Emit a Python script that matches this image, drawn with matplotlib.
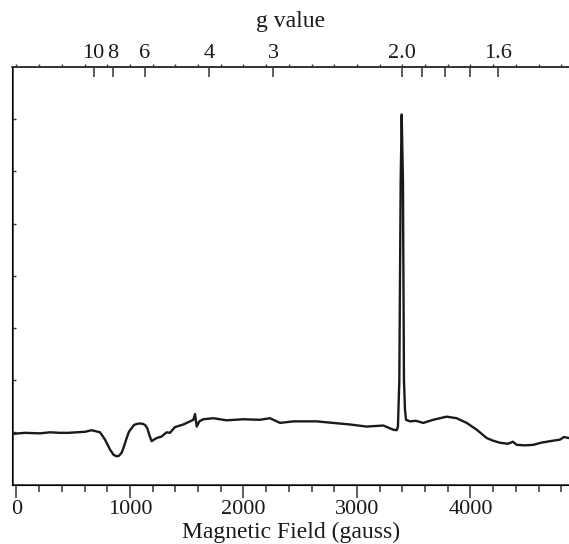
import matplotlib
matplotlib.use("Agg")
import matplotlib.pyplot as plt
from matplotlib.ticker import FixedLocator, NullFormatter

# ---- data ----
field_gauss = [-35, 75, 207, 295, 383, 454, 530, 604, 663, 736, 780, 824, 855, 883,
               903, 927, 947, 971, 991, 1015, 1035, 1059, 1088, 1117, 1137, 1152,
               1172, 1191, 1211, 1235, 1279, 1323, 1352, 1396, 1470, 1529, 1558,
               1573, 1588, 1611, 1646, 1734, 1852, 1998, 2145, 2233, 2322, 2439,
               2498, 2645, 2791, 2938, 3085, 3232, 3320, 3350, 3361, 3373, 3385,
               3394, 3405, 3414, 3423, 3432, 3467, 3520, 3584, 3672, 3790, 3878,
               3967, 4055, 4143, 4198, 4260, 4330, 4374, 4407, 4480, 4553, 4621,
               4700, 4789, 4824, 4868]
intensity = [0.97, 0.99, 0.98, 1.00, 0.99, 0.99, 1.00, 1.01, 1.04, 1.00, 0.86, 0.67,
             0.57, 0.54, 0.55, 0.61, 0.73, 0.89, 1.01, 1.08, 1.14, 1.16, 1.17, 1.16,
             1.13, 1.08, 0.94, 0.83, 0.86, 0.89, 0.92, 1.00, 0.99, 1.10, 1.15, 1.21,
             1.24, 1.35, 1.11, 1.21, 1.25, 1.27, 1.23, 1.25, 1.24, 1.27, 1.18, 1.21,
             1.21, 1.21, 1.18, 1.15, 1.11, 1.13, 1.05, 1.04, 1.11, 2.00, 5.82, 7.09,
             5.82, 2.00, 1.43, 1.24, 1.21, 1.22, 1.18, 1.24, 1.30, 1.27, 1.18, 1.05,
             0.89, 0.84, 0.80, 0.78, 0.82, 0.76, 0.75, 0.76, 0.80, 0.83, 0.86, 0.91,
             0.89]

x_major_ticks = [0, 1000, 2000, 3000, 4000]
g_major_values = [10, 8, 6, 4, 3, 2.0, 1.6]
g_major_labels = ["10", "8", "6", "4", "3", "2.0", "1.6"]
g_minor_values = [1.9, 1.8, 1.7]
g_constant = 6790  # gauss: field = g_constant / g

plt.rcParams['font.family'] = ['Liberation Serif', 'DejaVu Serif']

fig = plt.figure(figsize=(5.69, 5.44), dpi=100)
ax = fig.add_axes([12.5 / 569, 1 - 484.5 / 544, 1 - 12.5 / 569, (484.5 - 67) / 544])

ax.plot(field_gauss, intensity, color='#1a1a1a', lw=1.7)
ax.set_xlim(-35, 4868)
ax.set_ylim(0, 8)

for s in ['left', 'top', 'bottom']:
    ax.spines[s].set_linewidth(1.2)
    ax.spines[s].set_color('#333333')
ax.spines['right'].set_visible(False)

ax.xaxis.set_major_locator(FixedLocator(x_major_ticks))
ax.xaxis.set_minor_locator(FixedLocator(list(range(-200, 5000, 200))))
ax.tick_params(axis='x', which='major', direction='out', length=9, width=1.1,
               labelsize=16, pad=2, colors='#333333', labelcolor='#1a1a1a')
ax.tick_params(axis='x', which='minor', direction='out', length=5, width=1.1,
               colors='#333333')
ax.set_xlabel('Magnetic Field (gauss)', fontsize=17, labelpad=2, color='#1a1a1a')

ax.yaxis.set_major_locator(FixedLocator([1, 2, 3, 4, 5, 6, 7]))
ax.yaxis.set_major_formatter(NullFormatter())
ax.tick_params(axis='y', which='major', direction='in', length=2, width=1,
               colors='#333333')

# top g-value axis
ax2 = ax.twiny()
ax2.set_xlim(ax.get_xlim())
ax2.spines['right'].set_visible(False)
ax2.spines['top'].set_linewidth(1.2)
ax2.spines['top'].set_color('#333333')
ax2.xaxis.set_major_locator(FixedLocator([g_constant / g for g in g_major_values]))
ax2.set_xticklabels(g_major_labels)
ax2.xaxis.set_minor_locator(FixedLocator([g_constant / g for g in g_minor_values]))
ax2.tick_params(axis='x', which='both', direction='in', length=7, width=1.1,
                labelsize=16, pad=3, colors='#333333', labelcolor='#1a1a1a')
ax2.set_xlabel('g value', fontsize=17, labelpad=12, color='#1a1a1a')

# small ticks every 200 gauss along the top edge
ax3 = ax.twiny()
ax3.set_xlim(ax.get_xlim())
for s in ['right', 'left', 'bottom', 'top']:
    ax3.spines[s].set_visible(False)
ax3.xaxis.set_major_locator(FixedLocator(list(range(-200, 5000, 200))))
ax3.xaxis.set_major_formatter(NullFormatter())
ax3.tick_params(axis='x', which='major', direction='out', length=2, width=1,
                colors='#333333')

fig.savefig('out.png', dpi=100)
